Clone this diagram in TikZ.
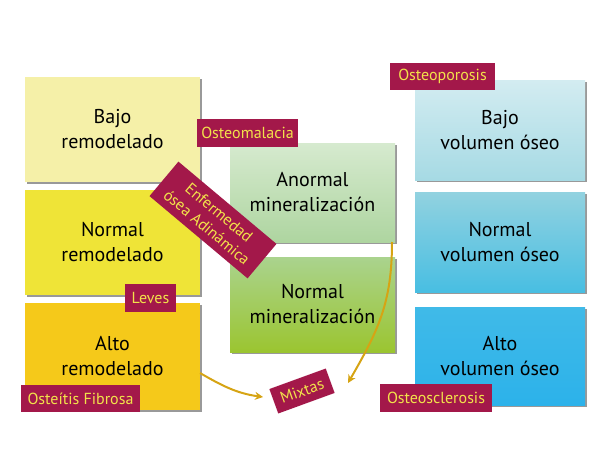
\documentclass[tikz,border=0pt]{standalone}
\usepackage{fontspec}
\setmainfont{PT Sans}
\usetikzlibrary{shadows,arrows.meta}
\definecolor{lab}{HTML}{A3184A}
\definecolor{labtxt}{HTML}{F2E24A}
\definecolor{arr}{HTML}{D6A414}
\definecolor{cbr}{HTML}{F5F0A8}
\definecolor{cnr}{HTML}{EFE437}
\definecolor{car}{HTML}{F5C91A}
\definecolor{camt}{HTML}{D6EACF}
\definecolor{camb}{HTML}{AED5A0}
\definecolor{cnmt}{HTML}{AAD38E}
\definecolor{cnmb}{HTML}{9BC530}
\definecolor{cbvt}{HTML}{D3ECF1}
\definecolor{cbvb}{HTML}{A6DAE4}
\definecolor{cnvt}{HTML}{92D2E0}
\definecolor{cnvb}{HTML}{48BEE2}
\definecolor{cavt}{HTML}{40BAE8}
\definecolor{cavb}{HTML}{2CB2EA}
\tikzset{
  box/.style={minimum width=#1, inner sep=0pt, align=center, font=\fontsize{20}{25}\selectfont,
    drop shadow={shadow xshift=2pt, shadow yshift=-2pt, fill=black!40, opacity=1}},
  tag/.style={fill=lab, text=labtxt, inner sep=0pt, align=center, font=\fontsize{16}{17}\selectfont},
  conn/.style={draw=arr, line width=2pt, -{Stealth[length=8pt,width=8pt]}}
}
\begin{document}
\begin{tikzpicture}[x=1pt,y=-1pt]
\useasboundingbox (0,0) rectangle (600,450);
% left column
\node[box=175pt, minimum height=105pt, fill=cbr] (br) at (112.5,129.5) {Bajo\\remodelado};
\node[box=175pt, minimum height=105pt, fill=cnr] (nr) at (112.5,242.5) {Normal\\remodelado};
\node[box=175pt, minimum height=107pt, fill=car] (ar) at (112.5,356.5) {Alto\\remodelado};
% middle column
\node[box=165pt, minimum height=99pt, top color=camt, bottom color=camb] (am) at (312.5,192.5) {Anormal\\mineralización};
\node[box=165pt, minimum height=95pt, top color=cnmt, bottom color=cnmb] (nm) at (312.5,304.5) {Normal\\mineralización};
% right column
\node[box=170pt, minimum height=100pt, top color=cbvt, bottom color=cbvb] (bv) at (500,130) {Bajo\\volumen óseo};
\node[box=170pt, minimum height=100pt, top color=cnvt, bottom color=cnvb] (nv) at (500,242) {Normal\\volumen óseo};
\node[box=170pt, minimum height=98pt, top color=cavt, bottom color=cavb] (av) at (500,356) {Alto\\volumen óseo};
% tags
\node[tag, minimum width=105pt, minimum height=27pt] (op) at (442.5,76.5) {Osteoporosis};
\node[tag, minimum width=101pt, minimum height=28pt] (om) at (247.5,133) {Osteomalacia};
\node[tag, minimum width=128pt, minimum height=45pt, rotate=-40, font=\fontsize{16}{19}\selectfont] (ad) at (213,220) {Enfermedad\\ósea Adinámica};
\node[tag, minimum width=51pt, minimum height=28pt] (lv) at (150.5,298) {Leves};
\node[tag, minimum width=119pt, minimum height=27pt] (of) at (80.5,398.5) {Osteítis Fibrosa};
\node[tag, minimum width=60pt, minimum height=26pt, rotate=20] (mx) at (302,391) {Mixtas};
\node[tag, minimum width=112pt, minimum height=28pt] (os) at (436,398) {Osteosclerosis};
% connectors
\coordinate (a1) at (200,373);
\coordinate (a1e) at (263,397);
\coordinate (a2) at (392,242);
\coordinate (a2e) at (348,383);
\draw[conn] (a1) to[out=-30, in=172] (a1e);
\draw[conn] (a2) to[out=-90, in=60, looseness=1.05] (a2e);
\end{tikzpicture}
\end{document}
